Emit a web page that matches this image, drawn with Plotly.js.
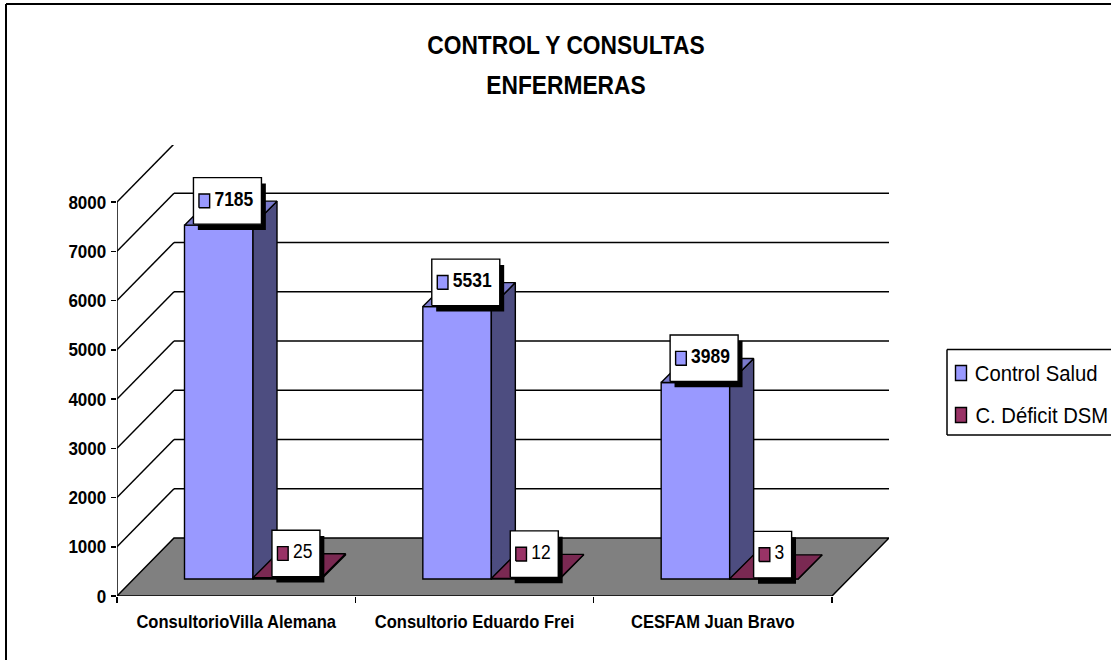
<!DOCTYPE html>
<html><head><meta charset="utf-8">
<script src="https://cdn.plot.ly/plotly-3.0.1.min.js"></script>
<style>html,body{margin:0;padding:0;background:#fff;overflow:hidden}</style>
</head><body><div id="chart" style="width:1111px;height:660px"></div>
<script>
// ---- data ----
const categories = ['ConsultorioVilla Alemana', 'Consultorio Eduardo Frei', 'CESFAM Juan Bravo'];
const controlSalud = [7185, 5531, 3989];
const deficitDSM = [25, 12, 3];
const yTicks = [0, 1000, 2000, 3000, 4000, 5000, 6000, 7000, 8000];
const seriesNames = ['Control Salud', 'C. Déficit DSM'];
const titleLines = ['CONTROL Y CONSULTAS', 'ENFERMERAS'];

// ---- geometry ----
const L = 117, R = 889, T = 145, B = 596, W = 1111, H = 660;
const PX_X = 715 / 3, PX_Y = 49.25 / 1000;           // pixels per axis unit
const ux = p => p / PX_X, uy = p => p / PX_Y;         // pixel lengths -> axis units
const wallX = ux(57), wallY = uy(58);
const baseX = ux(17), baseY = uy(17);
const depX = ux(24), depY = uy(24);
const barW = ux(68.5), barLeft = ux(50.5);
const xMax = (R - L) / PX_X, yMax = (B - T) / PX_Y;
const FONT = '"Liberation Sans",Arial,sans-serif';
const SQUEEZE = 0.9;   // the reference's glyphs are slightly condensed

const C = {
  front: ['#9999ff', '#993366'], side: ['#4d4d80', '#4d1a33'], top: ['#7a7acc', '#7a2952'],
  floor: '#808080'
};

const polyTrace = (polys, fill, lw) => {
  const x = [], y = [];
  polys.forEach(p => { p.forEach(q => { x.push(q[0]); y.push(q[1]); }); x.push(p[0][0], null); y.push(p[0][1], null); });
  return { type: 'scatter', mode: 'lines', x, y, fill: 'toself', fillcolor: fill, showlegend: false, hoverinfo: 'skip',
           line: { color: '#000', width: lw === undefined ? 1.4 : lw }, cliponaxis: false };
};
const seriesData = [controlSalud, deficitDSM];
const leftOf = (g, s) => g + baseX + barLeft + s * barW;

const traces = [];
// front faces: real bars
seriesData.forEach((vals, s) => {
  traces.push({ type: 'bar', name: seriesNames[s], x: vals.map((_, g) => leftOf(g, s) + barW / 2), y: vals,
    base: vals.map(() => baseY), width: barW, marker: { color: C.front[s], line: { color: '#000', width: 1.4 } },
    showlegend: false, hoverinfo: 'skip', cliponaxis: false });
});
// side and top faces
seriesData.forEach((vals, s) => {
  const sides = [], tops = [];
  vals.forEach((v, g) => {
    const x0 = leftOf(g, s), x1 = x0 + barW, y0 = baseY, y1 = baseY + v;
    sides.push([[x1, y0], [x1 + depX, y0 + depY], [x1 + depX, y1 + depY], [x1, y1]]);
    tops.push([[x0, y1], [x1, y1], [x1 + depX, y1 + depY], [x0 + depX, y1 + depY]]);
  });
  traces.push(polyTrace(sides, C.side[s]));
  traces.push(polyTrace(tops, C.top[s]));
});
// data labels: shadow, box, key, text
const boxH = uy(46.5);
const boxes = [], shadows = [], keys = [[], []], labelText = [[], []];
seriesData.forEach((vals, s) => {
  vals.forEach((v, g) => {
    const txt = String(v), w = ux(28 + 10 * txt.length);
    const cx = leftOf(g, s) + barW / 2 + ux(8.7);
    const xa = cx - w / 2, xb = cx + w / 2, yb = baseY + v + uy(1), yt = yb + boxH;
    const sx = ux(4.4), sy = uy(5.8);
    shadows.push([[xa + sx, yb - sy], [xb + sx, yb - sy], [xb + sx, yt - sy], [xa + sx, yt - sy]]);
    boxes.push([[xa, yb], [xb, yb], [xb, yt], [xa, yt]]);
    const ka = xa + ux(5.5), kb = ka + ux(10.7), ym = (yb + yt) / 2, kh = uy(6.9);
    keys[s].push([[ka, ym - kh], [kb, ym - kh], [kb, ym + kh], [ka, ym + kh]]);
    labelText[s].push({ x: xa + ux(21), y: ym, t: txt });
  });
});
traces.push(polyTrace(shadows, '#000', 0));
traces.push(polyTrace(boxes, '#fff'));
[0, 1].forEach(s => traces.push(polyTrace(keys[s], C.front[s])));
[0, 1].forEach(s => traces.push({ type: 'scatter', mode: 'text', x: labelText[s].map(d => d.x), y: labelText[s].map(d => d.y),
  text: labelText[s].map(d => d.t), textposition: 'middle right', cliponaxis: false, showlegend: false, hoverinfo: 'skip',
  textfont: { family: FONT, size: 19.4, color: '#000', weight: s === 0 ? 700 : 400 } }));

// walls, floor, axis behind the bars
const line = (x0, y0, x1, y1) => ({ type: 'line', layer: 'below', xref: 'x', yref: 'y', x0, y0, x1, y1, line: { color: '#000', width: 1.5 } });
const shapes = [];
yTicks.slice(1).forEach(v => {
  shapes.push(line(0, v, wallX, v + wallY));
  shapes.push(line(wallX, v + wallY, 3 + wallX, v + wallY));
});
shapes.push({ type: 'path', layer: 'below', xref: 'x', yref: 'y',
  path: `M0,0 L${wallX},${wallY} L${3 + wallX},${wallY} L3,0 Z`, fillcolor: C.floor, line: { color: '#000', width: 1.5 } });
shapes.push(line(0, 0, 0, yTicks[yTicks.length - 1]));
// pixel -> paper helpers for frame and legend
const px = p => (p - L) / (R - L), py = p => (B - p) / (B - T);
const pLine = (a, b, c, d, w) => ({ type: 'line', xref: 'paper', yref: 'paper', x0: px(a), y0: py(b), x1: px(c), y1: py(d), line: { color: '#000', width: w } });
shapes.push(pLine(6, 4, 6, H + 2, 2), pLine(6, 4, W + 2, 4, 2));
shapes.push(pLine(947, 349.5, W + 2, 349.5, 1.5), pLine(947, 435, W + 2, 435, 1.5), pLine(947, 349.5, 947, 435, 1.5));
const legendY = [373, 415];
const annotations = [];
seriesNames.forEach((n, s) => {
  shapes.push({ type: 'rect', xref: 'paper', yref: 'paper', x0: px(955.5), x1: px(966.5), y0: py(legendY[s] - 7.5), y1: py(legendY[s] + 7.5),
    fillcolor: C.front[s], line: { color: '#000', width: 1.4 } });
  annotations.push({ xref: 'paper', yref: 'paper', x: px(966), y: py(legendY[s]), xanchor: 'left', yanchor: 'middle', showarrow: false,
    text: n, font: { family: FONT, size: 22.5, color: '#000' } });
});

const layout = {
  width: W, height: H, autosize: false, paper_bgcolor: '#fff', plot_bgcolor: 'rgba(0,0,0,0)',
  margin: { l: L, r: W - R, t: T, b: H - B, pad: 0 }, showlegend: false, barmode: 'overlay',
  title: { text: titleLines.map(t => `<span style="font-size:25.3px">${t}</span>`).join('<br>'), font: { family: FONT, size: 31, color: '#000', weight: 700 },
    x: 566 / W, xanchor: 'center', y: 1 - 54 / H, yanchor: 'middle', xref: 'container', yref: 'container' },
  xaxis: { range: [0, xMax], showgrid: false, zeroline: false, showline: false,
    tickmode: 'array', tickvals: categories.map((_, g) => g + 0.5), ticktext: categories, ticks: '', ticklabelstandoff: 13,
    tickfont: { family: FONT, size: 18.4, color: '#000', weight: 700 }, tickangle: 0,
    minor: { tickmode: 'array', tickvals: [0, 1, 2, 3], ticks: 'outside', ticklen: 6, tickwidth: 1.5, tickcolor: '#000', showgrid: false } },
  yaxis: { range: [0, yMax], showgrid: false, zeroline: false, showline: false, tickmode: 'array', tickvals: yTicks,
    ticks: 'outside', ticklen: 5, tickwidth: 1.5, tickcolor: '#000', ticklabelstandoff: 1,
    tickfont: { family: FONT, size: 18.9, color: '#000', weight: 700 } },
  shapes, annotations
};
Plotly.newPlot('chart', traces, layout, { displayModeBar: false, staticPlot: true }).then(gd => {
  gd.querySelectorAll('svg text, svg tspan').forEach(el => {
    if (el.children.length || !el.textContent.trim()) return;
    el.setAttribute('textLength', el.getComputedTextLength() * SQUEEZE);
    el.setAttribute('lengthAdjust', 'spacingAndGlyphs');
  });
});
</script></body></html>
